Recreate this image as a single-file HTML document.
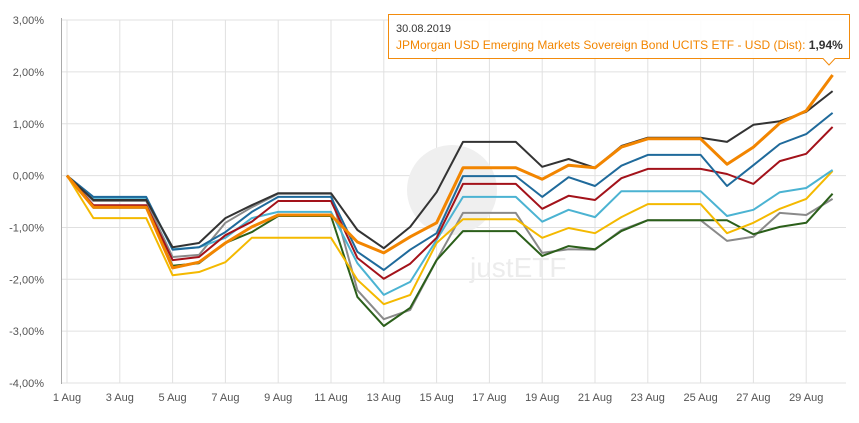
<!DOCTYPE html>
<html><head><meta charset="utf-8"><style>
body{margin:0;background:#fff;font-family:"Liberation Sans",sans-serif}
svg text{font-family:"Liberation Sans",sans-serif}
</style></head><body>
<svg id="chart" width="859" height="418" xmlns="http://www.w3.org/2000/svg">
<g id="grid"></g>
<g id="wm">
<circle cx="452" cy="190" r="45" fill="#efefef"/>
<text x="470" y="277" font-size="28" fill="#ececec" font-family="Liberation Serif">justETF</text>
</g>
<g id="series"></g>
<g id="axes"></g>
<g>
<path d="M388.5,14.5 H849.5 V58.5 H835 L829,65 L823,58.5 H388.5 Z" fill="#fff" stroke="#f28500" stroke-width="1" opacity="0.95"/>
<text x="396" y="32" font-size="11" fill="#333">30.08.2019</text>
<text x="396" y="49" font-size="12" fill="#f28500">JPMorgan USD Emerging Markets Sovereign Bond UCITS ETF - USD (Dist): <tspan fill="#333" font-weight="bold">1,94%</tspan></text>
</g>
</svg>
<script>
const days=[1,2,3,4,5,6,7,8,9,10,11,12,13,14,15,16,17,18,19,20,21,22,23,24,25,26,27,28,29,30];
const xTickDays=[1,3,5,7,9,11,13,15,17,19,21,23,25,27,29];
const yTicks=[3,2,1,0,-1,-2,-3,-4];
const black=[0,-0.47,-0.47,-0.47,-1.38,-1.30,-0.82,-0.57,-0.34,-0.34,-0.34,-1.05,-1.40,-0.99,-0.32,0.65,0.65,0.65,0.17,0.32,0.15,0.57,0.73,0.73,0.73,0.65,0.98,1.05,1.23,1.63];
const orange=[0,-0.61,-0.61,-0.61,-1.78,-1.67,-1.30,-0.99,-0.76,-0.76,-0.76,-1.28,-1.49,-1.18,-0.91,0.15,0.15,0.15,-0.07,0.20,0.15,0.55,0.71,0.71,0.71,0.22,0.55,1.01,1.25,1.94];
const blue=[0,-0.41,-0.41,-0.41,-1.43,-1.38,-1.09,-0.70,-0.41,-0.41,-0.41,-1.47,-1.82,-1.43,-1.11,-0.01,-0.01,-0.01,-0.41,-0.03,-0.20,0.19,0.40,0.40,0.40,-0.20,0.20,0.61,0.80,1.21];
const red=[0,-0.57,-0.57,-0.57,-1.63,-1.57,-1.15,-0.89,-0.49,-0.49,-0.49,-1.59,-1.99,-1.70,-1.20,-0.16,-0.16,-0.16,-0.64,-0.39,-0.47,-0.05,0.13,0.13,0.13,0.03,-0.16,0.28,0.42,0.94];
const cyan=[0,-0.43,-0.43,-0.43,-1.42,-1.38,-1.20,-0.82,-0.70,-0.70,-0.70,-1.69,-2.30,-2.05,-1.24,-0.41,-0.41,-0.41,-0.89,-0.66,-0.80,-0.30,-0.30,-0.30,-0.30,-0.78,-0.66,-0.32,-0.24,0.11];
const yellow=[0,-0.82,-0.82,-0.82,-1.92,-1.86,-1.67,-1.20,-1.20,-1.20,-1.20,-2.01,-2.48,-2.30,-1.30,-0.84,-0.84,-0.84,-1.20,-1.01,-1.11,-0.80,-0.55,-0.55,-0.55,-1.11,-0.91,-0.64,-0.45,0.09];
const gray=[0,-0.49,-0.49,-0.49,-1.57,-1.53,-0.91,-0.61,-0.35,-0.35,-0.35,-2.21,-2.77,-2.59,-1.63,-0.72,-0.72,-0.72,-1.49,-1.42,-1.43,-1.05,-0.86,-0.86,-0.86,-1.26,-1.18,-0.72,-0.76,-0.45];
const green=[0,-0.62,-0.62,-0.62,-1.74,-1.69,-1.30,-1.09,-0.78,-0.78,-0.78,-2.34,-2.90,-2.55,-1.63,-1.07,-1.07,-1.07,-1.55,-1.36,-1.42,-1.07,-0.86,-0.86,-0.86,-0.86,-1.13,-0.99,-0.91,-0.35];
const NS='http://www.w3.org/2000/svg';
const X=d=>67+(d-1)*26.4;
const Y=v=>175.6-v*51.85;
function mk(t,a,p){const e=document.createElementNS(NS,t);for(const k in a)e.setAttribute(k,a[k]);p.appendChild(e);return e;}
const grid=document.getElementById('grid'),axes=document.getElementById('axes'),ser=document.getElementById('series');
yTicks.forEach(v=>{
 const l=mk('line',{x1:61,x2:846,y1:Y(v),y2:Y(v),stroke:'#e0e0e0'},grid);
 
 
 const t=mk('text',{x:44,y:Y(v)+4,'font-size':11,fill:'#555','text-anchor':'end'},axes);
 t.textContent=v.toFixed(2).replace('.',',')+'%';
 
 
});
xTickDays.forEach(d=>{
 const l=mk('line',{x1:X(d),x2:X(d),y1:20,y2:383,stroke:'#e0e0e0'},grid);
 
 
 const t=mk('text',{x:X(d),y:401,'font-size':11,fill:'#555','text-anchor':'middle'},axes);
 t.textContent=d+' Aug';
 
 
});
const ax=mk('line',{x1:61.5,x2:61.5,y1:18,y2:384,stroke:'#aaa'},axes);


const list=[['gray',gray,'#8a8a8a',2],['green',green,'#2b5f1a',2],['yellow',yellow,'#f4b900',2],['cyan',cyan,'#4bb3d2',2],['red',red,'#a3121a',2],['blue',blue,'#1f6a9b',2],['black',black,'#333333',2],['orange',orange,'#f28500',3]];
list.forEach(([n,vals,c,w])=>{
 const p=mk('path',{d:vals.map((v,i)=>(i?'L':'M')+X(days[i]).toFixed(1)+','+Y(v).toFixed(1)).join(''),fill:'none',stroke:c,'stroke-width':w,'stroke-linejoin':'round'},ser);
 
 
});
</script>
</body></html>
